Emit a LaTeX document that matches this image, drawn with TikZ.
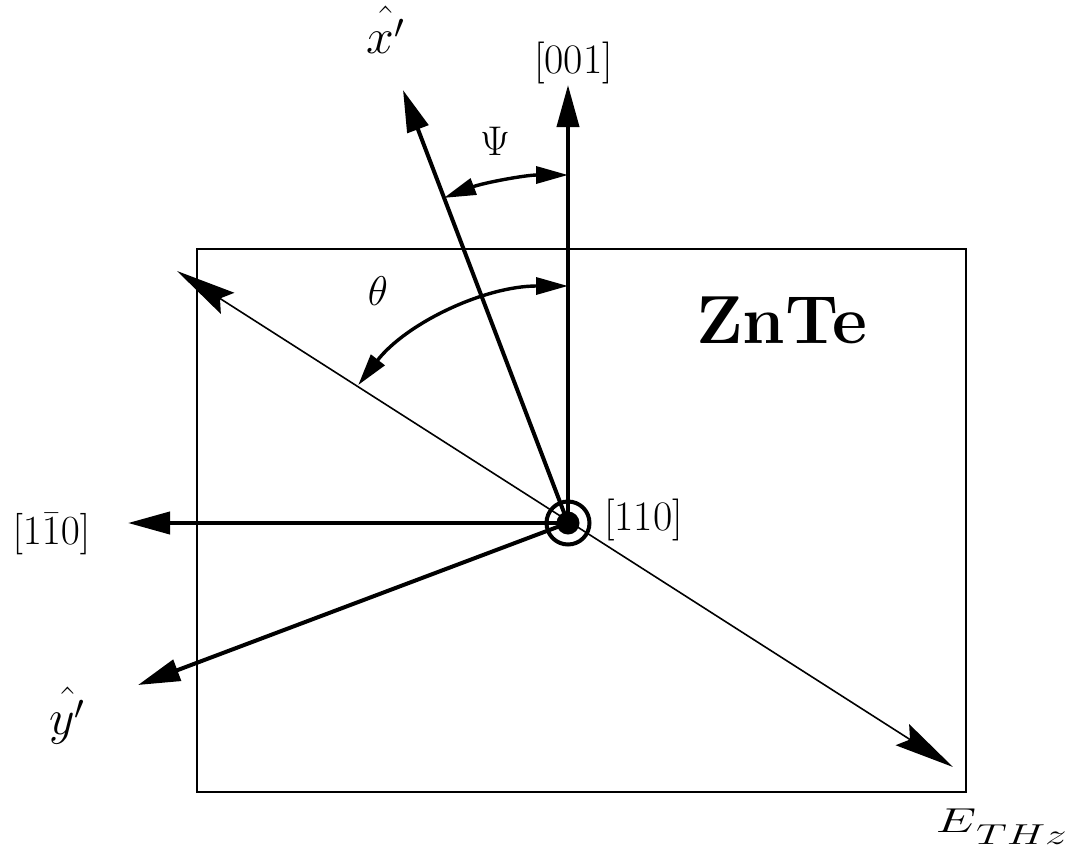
\documentclass[tikz,border=0pt]{standalone}
\usetikzlibrary{arrows.meta}
\begin{document}
\begin{tikzpicture}[x=0.5pt,y=-0.5pt,
  axisarrow/.style={line width=2pt,-{Triangle[length=21pt,width=11pt]}},
  ethz/.style={line width=0.8pt,{Stealth[length=30pt,width=12.5pt,inset=4.5pt]}-{Stealth[length=30pt,width=12.5pt,inset=4.5pt]}},
  anglearc/.style={line width=1.7pt,{Triangle[length=16pt,width=8.5pt]}-{Triangle[length=16pt,width=8.5pt]}},
  lbl/.style={inner sep=0pt,font=\fontsize{21}{25}\selectfont},
  hatlbl/.style={inner sep=0pt,font=\fontsize{24}{28}\selectfont}]
\useasboundingbox (0,0) rectangle (1067,857);
% crystal
\draw[line width=1pt] (197,249) rectangle (966,792);
% coordinates
\coordinate (O) at (568,523);
\coordinate (t001) at (568,85);
\coordinate (txp) at (403,90);
\coordinate (t1m10) at (128,523);
\coordinate (typ) at (138,685);
\coordinate (eA) at (177,271);
\coordinate (eB) at (953,767);
% E_THz line
\draw[ethz] (eA) -- (eB);
% axes
\draw[axisarrow] (O) -- (t001);
\draw[axisarrow] (O) -- (txp);
\draw[axisarrow] (O) -- (t1m10);
\draw[axisarrow] (O) -- (typ);
% angle arcs
\draw[anglearc] (O) ++(0,-348) arc[start angle=-90,end angle=-110.9,radius=348];
\draw[anglearc] (O) ++(0,-237) arc[start angle=-90,end angle=-144.4,x radius=258,y radius=237];
% [110] symbol
\draw[line width=2pt] (O) circle[radius=21.5];
\fill (O) circle[radius=11.5];
% labels
\node[hatlbl,anchor=base west] (lxp) at (366,53) {$\hat{x'}$};
\node[hatlbl,anchor=base west] (lyp) at (49,734) {$\hat{y'}$};
\node[lbl] (l001) at (573.5,63.4) {[001]};
\node[lbl] (l110) at (643.5,519.7) {[110]};
\node[lbl] (l1m10) at (51.5,534) {$[1\bar{1}0]$};
\node[lbl,anchor=base] (lpsi) at (495,155) {$\Psi$};
\node[lbl,anchor=base] (ltheta) at (378,305) {$\theta$};
\node[inner sep=0pt,anchor=base west,xscale=1.5,font=\fontsize{18}{21}\selectfont] (lE) at (935,832) {$E\hbox{\lower6pt\hbox{\fontsize{14}{17}\selectfont$THz$}}$};
\node[inner sep=0pt,anchor=base,font=\fontsize{34}{40}\selectfont\bfseries] (lzn) at (781.5,343) {ZnTe};
\end{tikzpicture}
\end{document}
